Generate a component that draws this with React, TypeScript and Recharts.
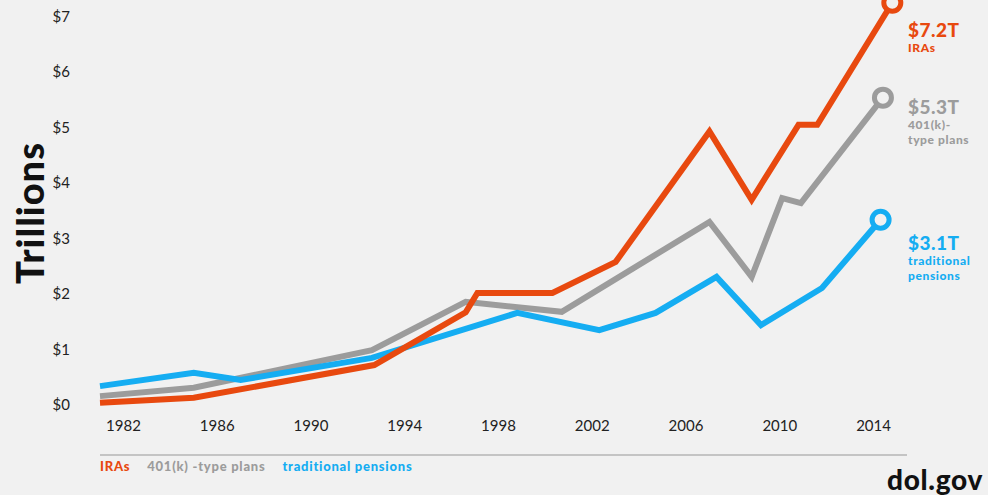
import { LineChart, Line, XAxis, YAxis, Label } from "recharts";

const iraYears = [1981, 1985, 1992.7, 1996.6, 1997.1, 2000.3, 2003.0, 2007.0, 2008.8, 2010.8, 2011.6, 2014.8];
const iraValues = [0.04, 0.13, 0.72, 1.67, 2.02, 2.02, 2.58, 4.93, 3.7, 5.05, 5.05, 7.25];

const k401Years = [1981, 1985, 1992.6, 1996.6, 2000.7, 2007.0, 2008.8, 2010.1, 2010.9, 2014.4];
const k401Values = [0.16, 0.31, 0.99, 1.86, 1.68, 3.3, 2.31, 3.73, 3.64, 5.54];

const pensionYears = [1981, 1985, 1987, 1992.6, 1998.8, 2002.3, 2004.7, 2007.3, 2009.2, 2011.8, 2014.3];
const pensionValues = [0.34, 0.58, 0.45, 0.85, 1.66, 1.35, 1.66, 2.31, 1.44, 2.11, 3.34];

const xTicks = [1982, 1986, 1990, 1994, 1998, 2002, 2006, 2010, 2014];
const yTicks = [0, 1, 2, 3, 4, 5, 6, 7];

const BG = "#f1f1f1";
const ORANGE = "#e8490f";
const GRAY = "#9c9c9c";
const BLUE = "#15adf2";
const FONT = "Lato, 'Open Sans', sans-serif";

const toRows = (years: number[], values: number[]) => years.map((year, i) => ({ year, value: values[i] }));

const iraData = toRows(iraYears, iraValues);
const k401Data = toRows(k401Years, k401Values);
const pensionData = toRows(pensionYears, pensionValues);

const endDot = (count: number, color: string) => (props: any) => {
  if (props.index !== count - 1) return <g key={props.index} />;
  return <circle key={props.index} cx={props.cx} cy={props.cy} r={8.5} fill={BG} stroke={color} strokeWidth={5} />;
};

const note = (top: number, color: string, big: string, lines: string[]) => (
  <div style={{ position: "absolute", left: 908, top, color, fontFamily: FONT, fontWeight: 900 }}>
    <div style={{ fontSize: 19, lineHeight: "21px", letterSpacing: 0.5 }}>{big}</div>
    {lines.map((l) => (
      <div key={l} style={{ fontSize: 12, lineHeight: "15px", letterSpacing: 0.6 }}>{l}</div>
    ))}
  </div>
);

const TrillionsLabel = () => (
  <text
    transform="translate(44,213) rotate(-90)"
    textAnchor="middle"
    fill="#111"
    fontSize={38}
    fontWeight={900}
    fontFamily={FONT}
    letterSpacing={1}
  >
    Trillions
  </text>
);

export default function App() {
  return (
    <div style={{ position: "absolute", left: 0, top: 0, width: 988, height: 495, background: BG, overflow: "hidden" }}>
      <LineChart width={988} height={495} margin={{ top: 0, right: 91, bottom: 60, left: 0 }}>
        <XAxis
          type="number"
          dataKey="year"
          domain={[1981, 2015]}
          ticks={xTicks}
          height={30}
          axisLine={false}
          tickLine={false}
          tickSize={0}
          tickMargin={15}
          tick={{ fill: "#222", fontSize: 15, fontFamily: FONT }}
          allowDuplicatedCategory={false}
        />
        <YAxis
          type="number"
          dataKey="value"
          domain={[0, 7.3]}
          ticks={yTicks}
          width={100}
          axisLine={false}
          tickLine={false}
          tickSize={0}
          tickMargin={30}
          tickFormatter={(v) => `$${v}`}
          tick={{ fill: "#222", fontSize: 15, fontFamily: FONT }}
        >
          <Label content={<TrillionsLabel />} />
        </YAxis>
        <Line data={k401Data} dataKey="value" stroke={GRAY} strokeWidth={6} dot={endDot(k401Data.length, GRAY)} isAnimationActive={false} strokeLinejoin="miter" />
        <Line data={pensionData} dataKey="value" stroke={BLUE} strokeWidth={6} dot={endDot(pensionData.length, BLUE)} isAnimationActive={false} strokeLinejoin="miter" />
        <Line data={iraData} dataKey="value" stroke={ORANGE} strokeWidth={6} dot={endDot(iraData.length, ORANGE)} isAnimationActive={false} strokeLinejoin="miter" />
      </LineChart>

      {note(19, ORANGE, "$7.2T", ["IRAs"])}
      {note(96, GRAY, "$5.3T", ["401(k)-", "type plans"])}
      {note(232, BLUE, "$3.1T", ["traditional", "pensions"])}

      <div style={{ position: "absolute", left: 100, top: 454, width: 807, height: 2, background: "#c4c4c4" }} />
      <div style={{ position: "absolute", left: 100, top: 458, fontFamily: FONT, fontWeight: 900, fontSize: 13, letterSpacing: 0.75, display: "flex", gap: 17 }}>
        <span style={{ color: ORANGE }}>IRAs</span>
        <span style={{ color: GRAY }}>401(k) -type plans</span>
        <span style={{ color: BLUE }}>traditional pensions</span>
      </div>
      <div style={{ position: "absolute", left: 887, top: 463, fontFamily: FONT, fontWeight: 900, fontSize: 28, lineHeight: "32px", letterSpacing: 0.7, color: "#111" }}>
        dol.gov
      </div>
    </div>
  );
}
